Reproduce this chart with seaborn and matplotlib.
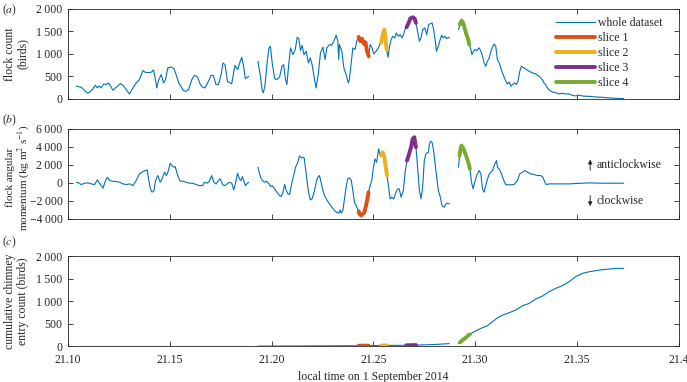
import numpy as np
import pandas as pd
import matplotlib
matplotlib.use('Agg')
import matplotlib.pyplot as plt
import seaborn as sns

# ---------- data (time in h, local) ----------
# (a) flock count
a_t1 = [21.1041, 21.1065, 21.1082, 21.1095, 21.1106, 21.1123, 21.1134, 21.1144, 21.1152, 21.1163,
        21.1175, 21.1188, 21.1199, 21.1209, 21.1221, 21.1237, 21.1257, 21.1270, 21.1286, 21.1302,
        21.1319, 21.1335, 21.1351, 21.1368, 21.1379, 21.1392, 21.1409, 21.1420, 21.1428, 21.1436,
        21.1444, 21.1458, 21.1469, 21.1479, 21.1490, 21.1507, 21.1520, 21.1531, 21.1544, 21.1556,
        21.1567, 21.1580, 21.1592, 21.1608, 21.1621, 21.1637, 21.1650, 21.1662, 21.1673, 21.1686,
        21.1703, 21.1714, 21.1727, 21.1739, 21.1752, 21.1761, 21.1771, 21.1784, 21.1797, 21.1804,
        21.1812, 21.1820, 21.1833, 21.1845, 21.1853, 21.1861, 21.1871, 21.1882, 21.1887]
a_v1 = [282, 259, 185, 133, 148, 230, 304, 245, 289, 245,
        333, 319, 356, 282, 193, 259, 341, 304, 207, 111,
        245, 356, 430, 630, 593, 585, 593, 645, 467, 245,
        408, 541, 356, 430, 689, 711, 674, 541, 356, 267,
        185, 170, 207, 430, 526, 482, 319, 259, 245, 356,
        526, 519, 319, 319, 541, 800, 763, 378, 356, 333,
        541, 748, 652, 822, 926, 763, 452, 482, 504]

a_t2 = [21.1933, 21.1945, 21.1953, 21.1959, 21.1967, 21.1977, 21.1987, 21.1994, 21.2003, 21.2015,
        21.2026, 21.2039, 21.2051, 21.2059, 21.2067, 21.2075, 21.2085, 21.2093, 21.2105, 21.2116,
        21.2126, 21.2134, 21.2142, 21.2150, 21.2159, 21.2170, 21.2181, 21.2190, 21.2199, 21.2211,
        21.2219, 21.2230, 21.2240, 21.2252, 21.2263, 21.2271, 21.2284, 21.2296, 21.2309, 21.2317,
        21.2325, 21.2330, 21.2333, 21.2345, 21.2355, 21.2366, 21.2377, 21.2382, 21.2391, 21.2399,
        21.2410, 21.2418, 21.2428, 21.2436, 21.2445, 21.2453, 21.2461, 21.2469, 21.2477, 21.2484,
        21.2492, 21.2502, 21.2513, 21.2525, 21.2532, 21.2538, 21.2546, 21.2554, 21.2559, 21.2565,
        21.2572, 21.2578, 21.2587, 21.2595, 21.2605, 21.2613, 21.2623, 21.2631, 21.2641, 21.2649,
        21.2658, 21.2663, 21.2673, 21.2681, 21.2693, 21.2703, 21.2709, 21.2717, 21.2726, 21.2734,
        21.2742, 21.2753, 21.2762, 21.2771, 21.2788, 21.2796, 21.2804, 21.2810, 21.2819, 21.2828,
        21.2835, 21.2843, 21.2851, 21.2859, 21.2869, 21.2873]
a_v2 = [837, 504, 207, 133, 282, 763, 1134, 1171, 800, 452,
        430, 482, 726, 763, 467, 319, 800, 1134, 985, 1097,
        1371, 1341, 1075, 1193, 985, 1060, 800, 911, 763, 430,
        245, 578, 1023, 1149, 874, 1134, 1208, 1193, 1319, 1415,
        1297, 874, 1208, 1060, 689, 541, 356, 430, 800, 1134,
        1097, 1282, 1378, 1282, 1334, 1223, 1260, 1060, 948, 1208,
        1149, 1000, 1060, 1134, 1223, 1245, 1430, 1541, 1356, 1097,
        926, 1134, 1319, 1393, 1356, 1467, 1393, 1430, 1356, 1445,
        1578, 1593, 1690, 1786, 1815, 1786, 1690, 1504, 1282, 1356,
        1541, 1578, 1430, 1652, 1690, 1541, 1282, 1060, 1171, 1319,
        1415, 1356, 1393, 1341, 1371, 1356]

a_t3 = [21.2918, 21.2925, 21.2933, 21.2941, 21.2949, 21.2957, 21.2966, 21.2971, 21.2977, 21.2984,
        21.2992, 21.3000, 21.3008, 21.3020, 21.3028, 21.3036, 21.3044, 21.3052, 21.3060, 21.3069,
        21.3080, 21.3093, 21.3101, 21.3109, 21.3118, 21.3126, 21.3134, 21.3147, 21.3158, 21.3167,
        21.3175, 21.3183, 21.3194, 21.3203, 21.3211, 21.3219, 21.3227, 21.3240, 21.3252, 21.3265,
        21.3281, 21.3297, 21.3314, 21.3330, 21.3338, 21.3346, 21.3355, 21.3366, 21.3379, 21.3395,
        21.3412, 21.3428, 21.3444, 21.3461, 21.3477, 21.3493, 21.3510, 21.3526, 21.3542, 21.3559,
        21.3591, 21.3624, 21.3657, 21.3690, 21.3730]
a_v3 = [1541, 1652, 1741, 1690, 1563, 1430, 1319, 1208, 1134, 985,
        1060, 1097, 1075, 1134, 1060, 948, 800, 726, 837, 911,
        1097, 1223, 1171, 874, 800, 689, 578, 430, 333, 378,
        282, 319, 356, 319, 400, 615, 726, 689, 652, 615,
        578, 556, 504, 430, 356, 319, 245, 185, 156, 141,
        111, 126, 111, 111, 82, 67, 82, 67, 59, 59,
        44, 37, 22, 15, 7]

# (b) flock angular momentum
b_t1 = [21.1041, 21.1052, 21.1065, 21.1082, 21.1098, 21.1114, 21.1131, 21.1144, 21.1155, 21.1172,
        21.1183, 21.1193, 21.1204, 21.1221, 21.1237, 21.1253, 21.1270, 21.1286, 21.1302, 21.1319,
        21.1335, 21.1351, 21.1368, 21.1389, 21.1397, 21.1405, 21.1413, 21.1422, 21.1430, 21.1441,
        21.1453, 21.1462, 21.1474, 21.1484, 21.1493, 21.1502, 21.1510, 21.1520, 21.1526, 21.1539,
        21.1551, 21.1564, 21.1580, 21.1596, 21.1613, 21.1629, 21.1645, 21.1662, 21.1670, 21.1683,
        21.1694, 21.1706, 21.1716, 21.1727, 21.1739, 21.1748, 21.1760, 21.1771, 21.1781, 21.1792,
        21.1804, 21.1814, 21.1822, 21.1833, 21.1842, 21.1850, 21.1856, 21.1863, 21.1871, 21.1879,
        21.1887]
b_v1 = [74, 0, -185, -37, 0, -111, -185, 333, -37, -593,
        185, 630, 259, 185, 148, 74, -111, -185, -111, -296,
        259, 1000, 1259, 1444, 259, -667, -1037, -852, 259, 815,
        74, 444, 1185, 815, 1370, 2185, 1926, 1741, 1815, 815,
        185, 185, 74, -37, -37, -185, -296, -296, 74, -37,
        185, 815, 74, -111, 259, 444, -222, -296, -111, 74,
        -37, -778, -111, 1074, 444, 259, 704, 259, -296, -111,
        74]

b_t2 = [21.1933, 21.1941, 21.1949, 21.1958, 21.1966, 21.1974, 21.1985, 21.1995, 21.2003, 21.2015,
        21.2026, 21.2039, 21.2047, 21.2056, 21.2064, 21.2072, 21.2080, 21.2088, 21.2100, 21.2108,
        21.2118, 21.2129, 21.2137, 21.2146, 21.2154, 21.2160, 21.2170, 21.2180, 21.2190, 21.2199,
        21.2211, 21.2219, 21.2227, 21.2235, 21.2243, 21.2252, 21.2260, 21.2271, 21.2284, 21.2296,
        21.2309, 21.2320, 21.2330, 21.2337, 21.2342, 21.2350, 21.2358, 21.2366, 21.2374, 21.2382,
        21.2391, 21.2399, 21.2407, 21.2418, 21.2428, 21.2431, 21.2440, 21.2448, 21.2456, 21.2464,
        21.2472, 21.2476, 21.2484, 21.2492, 21.2500, 21.2508, 21.2516, 21.2526, 21.2534, 21.2538,
        21.2546, 21.2554, 21.2562, 21.2567, 21.2575, 21.2582, 21.2590, 21.2600, 21.2608, 21.2619,
        21.2627, 21.2636, 21.2647, 21.2657, 21.2665, 21.2673, 21.2685, 21.2693, 21.2701, 21.2709,
        21.2717, 21.2726, 21.2734, 21.2742, 21.2750, 21.2758, 21.2770, 21.2775, 21.2782, 21.2788,
        21.2796, 21.2807, 21.2819, 21.2827, 21.2837, 21.2848, 21.2856, 21.2864, 21.2873]
b_v2 = [1741, 1000, 444, 185, 74, 185, -37, -407, -296, -667,
        -1037, -1407, -1518, -1037, -185, -852, -1222, -1296, 74, 815,
        1741, 2296, 3000, 2778, 2852, 2778, 1000, -852, -1889, -1778,
        -852, 74, 630, 815, 74, -852, -1407, -1889, -2333, -2704,
        -3074, -3259, -3370, -3000, -3370, -3074, -1778, -481, 444, 556,
        333, -852, -2148, -2704, -3148, -3444, -3630, -3444, -3259, -2519,
        -1593, -1037, -296, 259, 1741, 2667, 2296, 3778, 3037, 3037,
        3407, 2852, 1556, 815, -481, -1778, -1593, -1778, -1222, -667,
        -667, -1593, -852, 1370, 2482, 3037, 3963, 4889, 5074, 3963,
        1741, -852, -1778, -481, 2482, 3222, 3407, 4300, 4630, 4519,
        3593, 1370, -852, -1407, -2519, -2704, -2333, -2259, -2333]

b_t3 = [21.2918, 21.2923, 21.2928, 21.2933, 21.2943, 21.2955, 21.2966, 21.2974, 21.2982, 21.2990,
        21.2998, 21.3007, 21.3020, 21.3028, 21.3036, 21.3044, 21.3056, 21.3069, 21.3077, 21.3085,
        21.3096, 21.3105, 21.3109, 21.3118, 21.3129, 21.3141, 21.3150, 21.3167, 21.3191, 21.3208,
        21.3219, 21.3232, 21.3245, 21.3257, 21.3273, 21.3289, 21.3306, 21.3322, 21.3333, 21.3342,
        21.3350, 21.3363, 21.3395, 21.3461, 21.3526, 21.3559, 21.3624, 21.3730]
b_v3 = [1741, 3000, 3778, 4148, 3778, 3037, 2296, 1556, 74, -667,
        74, 815, 1370, 1000, -667, -1037, 74, 1000, 1185, 1370,
        2111, 2482, 1741, 1556, 1000, 259, -185, -222, -185, 259,
        1000, 1185, 1370, 1185, 1000, 926, 815, 815, 630, 74,
        -185, -111, -111, -111, -37, 0, -37, -37]

# (c) cumulative chimney entry count
c_t1 = [21.1041, 21.1300, 21.1600, 21.1887]
c_v1 = [0, 0, 0, 0]
c_t2 = [21.1933, 21.2100, 21.2250, 21.2428, 21.2477, 21.2536, 21.2568, 21.2662, 21.2710, 21.2800, 21.2873]
c_v2 = [0, 2, 5, 8, 10, 12, 14, 18, 22, 35, 55]
c_t3 = [21.2918, 21.2925, 21.2938, 21.2954, 21.2967, 21.2974, 21.2995, 21.3011, 21.3036, 21.3060,
        21.3085, 21.3110, 21.3134, 21.3167, 21.3199, 21.3232, 21.3265, 21.3297, 21.3330, 21.3363,
        21.3395, 21.3428, 21.3461, 21.3493, 21.3526, 21.3559, 21.3591, 21.3624, 21.3657, 21.3690,
        21.3730]
c_v3 = [59, 82, 133, 185, 245, 260, 319, 356, 408, 452,
        541, 630, 689, 741, 800, 896, 948, 1045, 1111, 1208,
        1282, 1341, 1430, 1541, 1615, 1652, 1675, 1697, 1712, 1727,
        1727]

slice_names = ['slice 1', 'slice 2', 'slice 3', 'slice 4']
slice_start = [21.2428, 21.2536, 21.2662, 21.2923]
slice_end = [21.2477, 21.2568, 21.2710, 21.2975]

blue = '#0072BD'
slice_colors = ['#D95319', '#EDB120', '#7E2F8E', '#77AC30']

sns.set_theme(style='ticks')
plt.rcParams['font.family'] = ['Liberation Serif', 'DejaVu Sans']
plt.rcParams['mathtext.fontset'] = 'stix'
plt.rcParams['axes.unicode_minus'] = True

fs = 8.5


def fmt(v):
    s = f'{abs(v):,}'.replace(',', '\u2009')
    return ('\u2212' + s) if v < 0 else s


def draw_panel(ax, segs):
    for t, v in segs:
        sns.lineplot(x=t, y=v, ax=ax, color=blue, lw=0.8, estimator=None)
    for name, s0, s1, col in zip(slice_names, slice_start, slice_end, slice_colors):
        for t, v in segs:
            t = np.array(t)
            v = np.array(v)
            m = (t >= s0) & (t <= s1)
            if m.sum() > 1:
                sns.lineplot(x=t[m], y=v[m], ax=ax, color=col, lw=2.8, estimator=None)


fig = plt.figure(figsize=(6.87, 3.82), dpi=100)
ax_a = fig.add_axes([0.099, 0.741, 0.889, 0.2356])
ax_b = fig.add_axes([0.099, 0.427, 0.889, 0.2356])
ax_c = fig.add_axes([0.099, 0.094, 0.889, 0.2356])

draw_panel(ax_a, [(a_t1, a_v1), (a_t2, a_v2), (a_t3, a_v3)])
draw_panel(ax_b, [(b_t1, b_v1), (b_t2, b_v2), (b_t3, b_v3)])
draw_panel(ax_c, [(c_t1, c_v1), (c_t2, c_v2), (c_t3, c_v3)])

xticks = [21.10, 21.15, 21.20, 21.25, 21.30, 21.35, 21.40]
xlabels = ['21.10', '21.15', '21.20', '21.25', '21.30', '21.35', '21.4']

for ax, yt, ylim in [(ax_a, [0, 500, 1000, 1500, 2000], (0, 2000)),
                     (ax_b, [-4000, -2000, 0, 2000, 4000, 6000], (-4000, 6000)),
                     (ax_c, [0, 500, 1000, 1500, 2000], (0, 2000))]:
    ax.set_xlim(21.10, 21.40)
    ax.set_ylim(*ylim)
    ax.set_xticks(xticks)
    ax.set_yticks(yt)
    ax.set_yticklabels([fmt(v) for v in yt])
    ax.tick_params(direction='in', top=True, right=True, length=3.5, width=0.6,
                   labelsize=fs, colors='#262626', pad=4)
    for sp in ax.spines.values():
        sp.set_visible(True)
        sp.set_linewidth(0.6)
        sp.set_color('#262626')
    ax.set_xlabel('')

ax_a.set_xticklabels([])
ax_b.set_xticklabels([])
ax_c.set_xticklabels(xlabels)
ax_c.tick_params(axis='x', pad=6)

ax_a.set_ylabel('flock count\n(birds)', fontsize=fs, linespacing=1.1)
ax_b.set_ylabel('flock angular\nmomentum (kg m$^2$ s$^{-1}$)', fontsize=8.0, linespacing=1.0)
ax_c.set_ylabel('cumulative chimney\nentry count (birds)', fontsize=fs, linespacing=1.1)
ax_a.yaxis.set_label_coords(-0.064, 0.5)
ax_b.yaxis.set_label_coords(-0.061, 0.46)
ax_c.yaxis.set_label_coords(-0.064, 0.5)

fig.text(0.543, 0.004, 'local time on 1 September 2014', ha='center', va='baseline', fontsize=fs)

fig.text(0.003, 1 - 10 / 382, '($a$)', ha='left', va='center', fontsize=fs)
fig.text(0.003, 1 - 120 / 382, '($b$)', ha='left', va='center', fontsize=fs)
fig.text(0.003, 1 - 242 / 382, '($c$)', ha='left', va='center', fontsize=fs)

# legend in panel (a)
lines = ax_a.get_lines()
handles = [lines[0]]
labels = ['whole dataset']
seen = set()
for ln in lines[3:]:
    col = ln.get_color()
    if col not in seen:
        seen.add(col)
        handles.append(ln)
for name in slice_names:
    labels.append(name)
ax_a.legend(handles, labels, loc='upper right', bbox_to_anchor=(0.974, 0.91), frameon=False,
            fontsize=fs, handlelength=3.3, handletextpad=0.3, labelspacing=0.25,
            borderpad=0, borderaxespad=0)

# rotation direction notes in panel (b)
ax_b.annotate('', xy=(21.3565, 2900), xytext=(21.3565, 1100),
              arrowprops=dict(arrowstyle='-|>', lw=0.7, color='#262626', mutation_scale=6))
ax_b.annotate('', xy=(21.3565, -2900), xytext=(21.3565, -1100),
              arrowprops=dict(arrowstyle='-|>', lw=0.7, color='#262626', mutation_scale=6))
ax_b.text(21.3598, 2000, 'anticlockwise', ha='left', va='center', fontsize=fs)
ax_b.text(21.3598, -2000, 'clockwise', ha='left', va='center', fontsize=fs)

fig.savefig('out.png', dpi=100)
